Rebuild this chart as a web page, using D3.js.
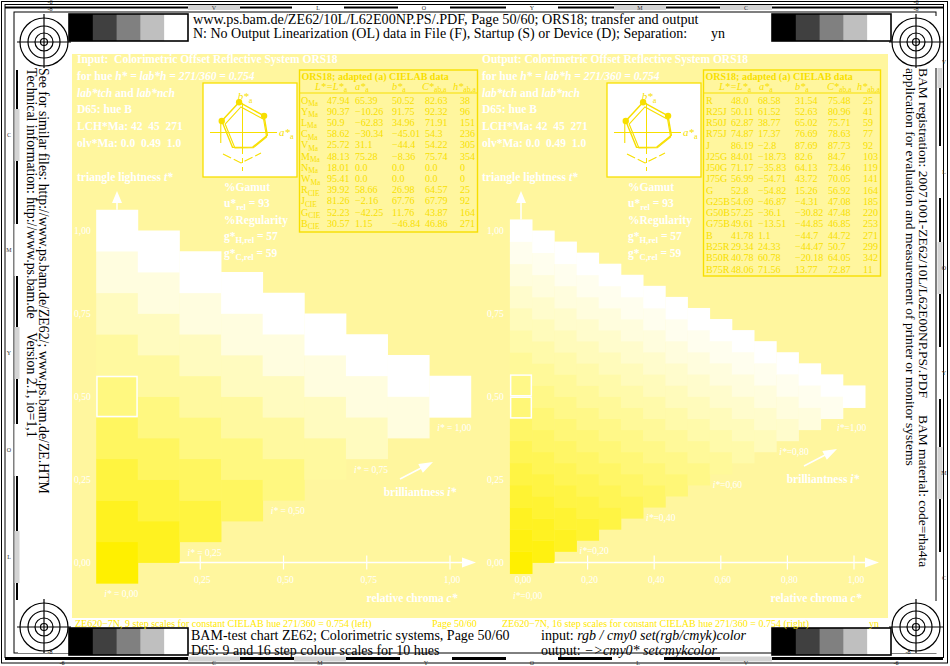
<!DOCTYPE html>
<html>
<head>
<meta charset="utf-8">
<script src="https://cdn.jsdelivr.net/npm/d3@7/dist/d3.min.js"></script>
<style>
  html, body { margin: 0; padding: 0; background: #ffffff; }
  svg { display: block; font-family: "Liberation Serif", "Times New Roman", Times, serif; }
  text { white-space: pre; }
</style>
</head>
<body>
<svg id="chart" width="950" height="666"></svg>
<script>
// ---------------------------------------------------------------
// ORS18 adapted CIELAB data (left: 12 reference colours)
// ---------------------------------------------------------------
const leftNames = ["O", "Y", "L", "C", "V", "M", "N", "W", "R", "J", "G", "B"];
const leftSubs  = ["Ma", "Ma", "Ma", "Ma", "Ma", "Ma", "Ma", "Ma", "CIE", "CIE", "CIE", "CIE"];
const leftL = ["47.94", "90.37", "50.9", "58.62", "25.72", "48.13", "18.01", "95.41", "39.92", "81.26", "52.23", "30.57"];
const leftA = ["65.39", "−10.26", "−62.83", "−30.34", "31.1", "75.28", "0.0", "0.0", "58.66", "−2.16", "−42.25", "1.15"];
const leftB = ["50.52", "91.75", "34.96", "−45.01", "−44.4", "−8.36", "0.0", "0.0", "26.98", "67.76", "11.76", "−46.84"];
const leftC = ["82.63", "92.32", "71.91", "54.3", "54.22", "75.74", "0.0", "0.0", "64.57", "67.79", "43.87", "46.86"];
const leftH = ["38", "96", "151", "236", "305", "354", "0", "0", "25", "92", "164", "271"];

// ORS18 adapted CIELAB data (right: 16 hue steps)
const rightNames = ["R", "R25J", "R50J", "R75J", "J", "J25G", "J50G", "J75G", "G", "G25B", "G50B", "G75B", "B", "B25R", "B50R", "B75R"];
const rightL = ["48.0", "50.11", "62.87", "74.87", "86.19", "84.01", "71.17", "56.99", "52.8", "54.69", "57.25", "49.61", "41.78", "29.34", "40.78", "48.06"];
const rightA = ["68.58", "61.52", "38.77", "17.37", "−2.8", "−18.73", "−35.83", "−54.71", "−54.82", "−46.87", "−36.1", "−13.51", "1.1", "24.33", "60.78", "71.56"];
const rightB = ["31.54", "52.63", "65.02", "76.69", "87.69", "82.6", "64.13", "43.72", "15.26", "−4.31", "−30.82", "−44.85", "−44.7", "−44.47", "−20.18", "13.77"];
const rightC = ["75.48", "80.96", "75.71", "78.63", "87.73", "84.7", "73.46", "70.05", "56.92", "47.08", "47.48", "46.85", "44.72", "50.7", "64.05", "72.87"];
const rightH = ["25", "41", "59", "77", "92", "103", "119", "141", "164", "185", "220", "253", "271", "299", "342", "11"];

// Yellow separation amount per colour step (index = chroma step + lightness step)
const leftLevels  = [1.0, 0.875, 0.75, 0.625, 0.5, 0.375, 0.25, 0.125, 0.0];
const rightLevels = [1.0, 0.933, 0.867, 0.8, 0.733, 0.667, 0.6, 0.533, 0.467, 0.4, 0.333, 0.267, 0.2, 0.133, 0.067, 0.0];

// Axis tick values and labels
const tTicks = [1.0, 0.75, 0.5, 0.25, 0.0];
const tLabels = ["1,00", "0,75", "0,50", "0,25", "0,00"];
const leftCTicks = [0.25, 0.5, 0.75, 1.0];
const leftCLabels = ["0,25", "0,50", "0,75", "1,00"];
const rightCTicks = [0.0, 0.2, 0.4, 0.6, 0.8, 1.0];
const rightCLabels = ["0,00", "0,20", "0,40", "0,60", "0,80", "1,00"];
const leftILabels = ["i* = 0,00", "i* = 0,25", "i* = 0,50", "i* = 0,75", "i* = 1,00"];
const leftIValues = [0.0, 0.25, 0.5, 0.75, 1.0];
const rightILabels = ["i*=0,00", "i*=0,20", "i*=0,40", "i*=0,60", "i*=0,80", "i*=1,00"];
const rightIValues = [0.0, 0.2, 0.4, 0.6, 0.8, 1.0];

// Grey scale patches in the corner strips
const greySteps = [0, 0.25, 0.5, 0.75, 1.0];

// ---------------------------------------------------------------
const svg = d3.select("#chart");
const PANEL = "#fff69e";
const INK = "#f7df00";
const CAPTION = "#ffe900";

// yellow-separation colour for amount v (0 = paper white, 1 = full yellow)
function sepColor(v) {
  const b = 255 * (1 - v);
  const g = 255 - 15 * v;
  return d3.rgb(255, g, b).formatHex();
}

// text with italic / subscript runs
function rich(sel, x, y, parts, o = {}) {
  const size = o.size || 11;
  const t = sel.append("text")
    .attr("x", x).attr("y", y)
    .attr("font-size", size)
    .attr("fill", o.fill || "#ffffff")
    .attr("font-weight", o.bold ? "bold" : "normal")
    .attr("font-style", o.italic ? "italic" : "normal")
    .attr("text-anchor", o.anchor || "start");
  if (o.transform) t.attr("transform", o.transform);
  let shift = 0;
  parts.forEach(p => {
    if (typeof p === "string") p = { t: p };
    const ts = t.append("tspan").text(p.t);
    if (p.i) ts.attr("font-style", "italic");
    const want = p.sub ? Math.round(size * 0.25 * 2) / 2 : 0;
    if (want !== shift) { ts.attr("dy", want - shift); shift = want; }
    if (p.sub) ts.attr("font-size", size * 0.74);
  });
  return t;
}

// ---------------------------------------------------------------
// Frame, registration marks, grey strips
// ---------------------------------------------------------------
const frame = svg.append("g").attr("fill", "none").attr("stroke", "#000");
frame.append("rect").attr("x", 1.5).attr("y", 1.5).attr("width", 946).attr("height", 661.5).attr("stroke-width", 1);
frame.append("rect").attr("x", 5).attr("y", 4.5).attr("width", 938.5).attr("height", 653).attr("stroke-width", 1);
frame.append("rect").attr("x", 14).attr("y", 12).attr("width", 922).attr("height", 641).attr("stroke-width", 1);

// separation bars along the edges
const topMarks = [["V", 214, true], ["L", 318, false], ["O", 424, false], ["Y", 532, false], ["M", 640, true], ["C", 746, true]];
const botMarks = [["C", 214, true], ["M", 320, true], ["Y", 426, false], ["O", 532, false], ["L", 638, false], ["V", 746, true]];
const sideLeft = [["C", 135, true], ["M", 250, false], ["Y", 353, true], ["O", 450, false], ["L", 557, true]];
const sideRight = [["V", 62, true], ["L", 172, false], ["O", 268, true], ["Y", 373, false], ["M", 473, true], ["C", 578, false]];

const bars = svg.append("g");
bars.append("line").attr("x1", 5).attr("x2", 943).attr("y1", 7.5).attr("y2", 7.5).attr("stroke", "#000").attr("stroke-width", 2);
bars.append("line").attr("x1", 5).attr("x2", 943).attr("y1", 659).attr("y2", 659).attr("stroke", "#000").attr("stroke-width", 2);
bars.append("line").attr("x1", 17).attr("x2", 17).attr("y1", 70).attr("y2", 600).attr("stroke", "#000").attr("stroke-width", 2);
bars.append("line").attr("x1", 940).attr("x2", 940).attr("y1", 70).attr("y2", 600).attr("stroke", "#000").attr("stroke-width", 2);
function hMarks(list, y, ly) {
  list.forEach(([ch, x, grey]) => {
    bars.append("rect").attr("x", x - 26).attr("y", y - 2.5).attr("width", 52).attr("height", 5)
      .attr("fill", grey ? "#d4d4d4" : "#ffffff");
    bars.append("text").attr("x", x).attr("y", ly).attr("font-size", 6).attr("text-anchor", "middle").attr("fill", "#333").text(ch);
  });
}
function vMarks(list, x, lx) {
  list.forEach(([ch, y, grey]) => {
    bars.append("rect").attr("x", x - 2.5).attr("y", y - 26).attr("width", 5).attr("height", 52)
      .attr("fill", grey ? "#d4d4d4" : "#ffffff");
    bars.append("text").attr("x", lx).attr("y", y + 2).attr("font-size", 6).attr("text-anchor", "middle").attr("fill", "#333").text(ch);
  });
}
hMarks(topMarks, 7.5, 10);
hMarks(botMarks, 659, 665);
vMarks(sideLeft, 17, 9);
vMarks(sideRight, 940, 944);

function target(cx, cy) {
  const g = svg.append("g").attr("fill", "none").attr("stroke", "#000").attr("stroke-width", 1.2);
  g.append("rect").attr("x", cx - 26).attr("y", cy - 26).attr("width", 52).attr("height", 52).attr("fill", "#fff").attr("stroke", "none");
  [24, 16, 9, 3.5].forEach(r => g.append("circle").attr("cx", cx).attr("cy", cy).attr("r", r));
  g.append("line").attr("x1", cx - 27).attr("x2", cx + 27).attr("y1", cy).attr("y2", cy);
  g.append("line").attr("x1", cx).attr("x2", cx).attr("y1", cy - 28).attr("y2", cy + 26);
}
target(44, 42); target(916, 42); target(44, 627); target(916, 627);

const tiny = [["-6", 50, 4], ["-8", 50, 11], ["-6", 916, 4], ["-8", 916, 11], ["-8", 50, 654], ["-6", 62, 665], ["-8", 908, 654], ["-6", 896, 665]];
tiny.forEach(([s, x, y]) => svg.append("text").attr("x", x).attr("y", y).attr("font-size", 6).attr("text-anchor", "middle").text(s));

function greyStrip(x, y) {
  const w = 119, h = 27;
  const sx = d3.scaleBand().domain(d3.range(greySteps.length)).range([x, x + w]);
  svg.append("g").selectAll("rect").data(greySteps).join("rect")
    .attr("x", (d, i) => sx(i)).attr("y", y).attr("width", sx.bandwidth() + 0.5).attr("height", h)
    .attr("fill", d => d3.rgb(255 * d, 255 * d, 255 * d).formatHex());
  svg.append("rect").attr("x", x).attr("y", y).attr("width", w).attr("height", h)
    .attr("fill", "none").attr("stroke", "#000").attr("stroke-width", 1.6);
}
greyStrip(69, 14); greyStrip(772, 14); greyStrip(69, 628); greyStrip(772, 628);

// header / footer lines
const hdr = svg.append("g");
rich(hdr, 193, 24, ["www.ps.bam.de/ZE62/10L/L62E00NP.PS/.PDF, Page 50/60; ORS18; transfer and output"], { size: 14.2, fill: "#000" });
rich(hdr, 193, 38, ["N: No Output Linearization (OL) data in File (F), Startup (S) or Device (D); Separation:"], { size: 14, fill: "#000" });
rich(hdr, 711, 38, ["yn"], { size: 14, fill: "#000" });
rich(hdr, 191, 640, ["BAM-test chart ZE62; Colorimetric systems, Page 50/60"], { size: 14, fill: "#000" });
rich(hdr, 191, 654.5, ["D65: 9 and 16 step colour scales for 10 hues"], { size: 14, fill: "#000" });
rich(hdr, 541, 640, ["input: ", { t: "rgb / cmy0 set(rgb/cmyk)color", i: true }], { size: 14, fill: "#000" });
rich(hdr, 541, 654.5, ["output: ", { t: "−>cmy0* setcmykcolor", i: true }], { size: 14, fill: "#000" });

rich(hdr, 0, 0, ["See for similar files: http://www.ps.bam.de/ZE62/; www.ps.bam.de/ZE.HTM"], { size: 13.8, fill: "#000", transform: "translate(39,68) rotate(90)" });
rich(hdr, 0, 0, ["Technical information: http://www.ps.bam.de    Version 2.1, io=1,1"], { size: 13.8, fill: "#000", transform: "translate(27,68) rotate(90)" });
rich(hdr, 0, 0, ["BAM registration: 20071001-ZE62/10L/L62E00NP.PS/.PDF     BAM material: code=rha4ta"], { size: 13.5, fill: "#000", transform: "translate(919,68) rotate(90)" });
rich(hdr, 0, 0, ["application for evaluation and measurement of printer or monitor systems"], { size: 13.5, fill: "#000", transform: "translate(906,68) rotate(90)" });

// ---------------------------------------------------------------
// Yellow panel with captions
// ---------------------------------------------------------------
svg.append("rect").attr("x", 72).attr("y", 54).attr("width", 816).attr("height", 564).attr("fill", PANEL);
rich(svg, 75, 627, ["ZE620−7N, 9 step scales for constant CIELAB hue 271/360 = 0.754 (left)"], { size: 10, fill: CAPTION });
rich(svg, 432, 627, ["Page 50/60"], { size: 10, fill: CAPTION });
rich(svg, 502, 627, ["ZE620−7N, 16 step scales for constant CIELAB hue 271/360 = 0.754 (right)"], { size: 10, fill: CAPTION });
rich(svg, 869, 627, ["yn"], { size: 10, fill: CAPTION });

// ---------------------------------------------------------------
// Panel text blocks
// ---------------------------------------------------------------
function infoBlock(x, title) {
  const g = svg.append("g");
  const lines = [
    [title],
    ["for hue ", { t: "h* = lab*h = 271/360 = 0.754", i: true }],
    [{ t: "lab*tch", i: true }, " and ", { t: "lab*nch", i: true }],
    ["D65: hue B"],
    ["LCH*Ma: 42  45  271"],
    ["olv*Ma: 0.0  0.49  1.0"],
    [],
    ["triangle lightness ", { t: "t*", i: true }]
  ];
  lines.forEach((parts, i) => {
    if (parts.length) rich(g, x, 63 + i * 16.8, parts, { size: 11.5, bold: true });
  });
}
infoBlock(77, "Input:  Colorimetric Offset Reflective System ORS18");
infoBlock(482, "Output: Colorimetric Offset Reflective System ORS18");

function gamutBlock(x) {
  const g = svg.append("g");
  const lines = [
    ["%Gamut"],
    ["u*", { t: "rel", sub: true }, " = 93"],
    ["%Regularity"],
    ["g*", { t: "H,rel", sub: true }, " = 57"],
    ["g*", { t: "C,rel", sub: true }, " = 59"]
  ];
  lines.forEach((parts, i) => rich(g, x, 190.5 + i * 16.6, parts, { size: 11.5, bold: true }));
}

// hue diagram in the a*b* plane, drawn from the ORS18 table values
function hueDiagram(bx, by) {
  const g = svg.append("g").attr("transform", `translate(${bx},${by})`);
  g.append("rect").attr("x", 0).attr("y", 0).attr("width", 94).attr("height", 94)
    .attr("fill", "#fff").attr("stroke", INK).attr("stroke-width", 1.3);
  const cx = 39.5, cy = 49.5;
  const num = s => parseFloat(s.replace("−", "-"));
  const s = d3.scaleLinear().domain([0, 100]).range([0, 33]);
  const pts = [0, 1, 2, 3, 4, 5].map(i => [cx + s(num(leftA[i])), cy - s(num(leftB[i]))]);
  const s2 = d3.scaleLinear().domain([0, 100]).range([0, 30]);
  const pts2 = [0, 1, 2, 3, 4, 5].map(i => [cx + 1.5 + s2(num(leftA[i])), cy + 2 - s2(num(leftB[i]))]);
  const ln = d3.line();
  g.append("line").attr("x1", 7).attr("x2", 74).attr("y1", cy).attr("y2", cy).attr("stroke", INK).attr("stroke-width", 1);
  g.append("line").attr("x1", cx).attr("x2", cx).attr("y1", 20).attr("y2", 66).attr("stroke", INK).attr("stroke-width", 1);
  g.append("line").attr("x1", cx).attr("x2", cx).attr("y1", 66).attr("y2", 88).attr("stroke", INK).attr("stroke-width", 1).attr("stroke-dasharray", "5,4");
  g.append("path").attr("d", ln(pts) + "Z").attr("fill", "none").attr("stroke", INK).attr("stroke-width", 1.4);
  g.append("path").attr("d", ln(pts2) + "Z").attr("fill", "none").attr("stroke", INK).attr("stroke-width", 1.1);
  g.append("line").attr("x1", pts[2][0] - 1).attr("x2", pts[2][0] - 1).attr("y1", pts[2][1]).attr("y2", 60).attr("stroke", INK).attr("stroke-width", 1.1);
  g.append("path").attr("d", ln([[20, 71], [38, 80], [58, 70]])).attr("fill", "none").attr("stroke", INK).attr("stroke-width", 1.1).attr("stroke-dasharray", "9,3");
  [0, 1, 2].forEach(i => g.append("circle").attr("cx", pts[i][0]).attr("cy", pts[i][1]).attr("r", 3.2).attr("fill", INK));
  rich(g, 42, 17, [{ t: "b*", i: true }, { t: "a", sub: true }], { size: 11, fill: INK, anchor: "middle" });
  rich(g, 76, 53, [{ t: "a*", i: true }, { t: "a", sub: true }], { size: 11, fill: INK });
}
hueDiagram(203, 83);
hueDiagram(607, 83);

// ---------------------------------------------------------------
// CIELAB tables
// ---------------------------------------------------------------
function labTable(x0, y0, w, h, rows, cols, hdrX, step) {
  const g = svg.append("g");
  const fs = 10;
  g.append("rect").attr("x", x0).attr("y", y0).attr("width", w).attr("height", h)
    .attr("fill", "none").attr("stroke", INK).attr("stroke-width", 1.4);
  rich(g, x0 + 2, y0 + 9.5, ["ORS18; adapted (a) CIELAB data"], { size: 10, bold: true, fill: INK });
  const heads = [
    [{ t: "L*=L*", i: true }, { t: "a", sub: true }],
    [{ t: "a*", i: true }, { t: "a", sub: true }],
    [{ t: "b*", i: true }, { t: "a", sub: true }],
    [{ t: "C*", i: true }, { t: "ab,a", sub: true }],
    [{ t: "h*", i: true }, { t: "ab,a", sub: true }]
  ];
  heads.forEach((p, i) => rich(g, hdrX[i], y0 + 19.5, p, { size: 10.3, fill: INK }));
  g.append("line").attr("x1", x0).attr("x2", x0 + w).attr("y1", y0 + 23).attr("y2", y0 + 23).attr("stroke", INK).attr("stroke-width", 1);
  const ry = d3.scaleLinear().domain([0, 1]).range([y0 + 33.5, y0 + 33.5 + step]);
  rows.forEach((r, i) => {
    const y = ry(i);
    rich(g, cols[0], y, r.label, { size: fs, fill: INK });
    r.vals.forEach((v, k) => rich(g, cols[k + 1], y, [v], { size: fs, fill: INK }));
  });
}
const leftRows = leftNames.map((n, i) => ({ label: [n, { t: leftSubs[i], sub: true }], vals: [leftL[i], leftA[i], leftB[i], leftC[i], leftH[i]] }));
const rightRows = rightNames.map((n, i) => ({ label: [n], vals: [rightL[i], rightA[i], rightB[i], rightC[i], rightH[i]] }));
labTable(299.5, 70, 178, 162, leftRows, [301, 327, 355, 392, 425, 460], [315, 355, 392, 422, 453], 11.22);
labTable(703.5, 70, 177, 206, rightRows, [706, 731, 758, 795, 828, 863], [719, 759, 795, 827, 857], 11.27);

// ---------------------------------------------------------------
// Colour triangles
// ---------------------------------------------------------------
function triangle(levels, x0, cTicks, cLabels, iVals, iLabels, outlined, opts) {
  const n = levels.length - 1;
  const x = d3.scaleLinear().domain([0, 1]).range([x0, x0 + 333]);
  const y = d3.scaleLinear().domain([0, 1]).range([562.5, 230.5]);
  const cw = x(1 / n) - x(0), ch = y(0) - y(1 / n);
  const cells = [];
  for (let j = 0; j <= n; j++) {
    for (let k = 0; k <= n - j; k++) {
      cells.push({ j, k, c: j / n, t: k / n + j / (2 * n), v: levels[j + k] });
    }
  }
  const g = svg.append("g");
  g.selectAll("rect.cell").data(cells).join("rect").attr("class", "cell")
    .attr("x", d => x(d.c) - cw / 2).attr("y", d => y(d.t) - ch / 2)
    .attr("width", cw + 0.4).attr("height", ch + 0.4)
    .attr("fill", d => sepColor(d.v));
  outlined.forEach(k => {
    g.append("rect").attr("x", x(0) - cw / 2 + 0.75).attr("y", y(k / n) - ch / 2 + 0.75)
      .attr("width", cw - 1.5).attr("height", ch - 1.5)
      .attr("fill", "none").attr("stroke", "#fff").attr("stroke-width", 1.5);
  });

  // lightness axis arrow
  const top = y(1 + 1 / (2 * n));
  g.append("line").attr("x1", x(0)).attr("x2", x(0)).attr("y1", top).attr("y2", 201).attr("stroke", "#fff").attr("stroke-width", 1.5);
  g.append("path").attr("d", `M${x(0) - 5},203L${x(0)},191L${x(0) + 5},203Z`).attr("fill", "#fff");

  // lightness labels
  tTicks.forEach((t, i) => rich(g, opts.yLabX, y(t) + 3.5, [tLabels[i]], { size: 9.5 }));

  // chroma axis
  const ax0 = x(opts.axisStart) - cw / 2;
  const axEnd = x0 + opts.axisLen;
  g.append("line").attr("x1", ax0).attr("x2", axEnd - 12).attr("y1", y(0)).attr("y2", y(0)).attr("stroke", "#fff").attr("stroke-width", 1.3);
  g.append("path").attr("d", `M${axEnd - 14},${y(0) - 5}L${axEnd},${y(0)}L${axEnd - 14},${y(0) + 5}Z`).attr("fill", "#fff");
  cTicks.forEach((c, i) => {
    if (c > 0) g.append("line").attr("x1", x(c)).attr("x2", x(c)).attr("y1", y(0) - 7).attr("y2", y(0) + 7).attr("stroke", "#fff").attr("stroke-width", 1.2);
    rich(g, x(c) + 2, 582.5, [cLabels[i]], { size: 9.5, anchor: "middle" });
  });

  // brilliance labels along the lower edge
  iVals.forEach((v, i) => {
    const j = Math.round(v * n);
    let lx = x(j / n) - cw / 2 + opts.iDx;
    let ly = y(j / (2 * n)) + ch / 2 + 14;
    if (j === 0) ly = opts.i0y;
    if (j === n) { lx += opts.lastDx; ly += opts.lastDy; }
    const parts = iLabels[i].split("*");
    rich(g, lx, ly, [{ t: parts[0] + "*", i: true }, parts[1]], { size: 9.5 });
  });

  // brilliance arrow and captions
  const a = opts.arrow;
  g.append("line").attr("x1", a[0]).attr("y1", a[1]).attr("x2", a[2] - 8).attr("y2", a[3] + 4).attr("stroke", "#fff").attr("stroke-width", 1.5);
  const ang = Math.atan2(a[3] - a[1], a[2] - a[0]);
  const bx = a[2] - 14 * Math.cos(ang), by = a[3] - 14 * Math.sin(ang);
  const px = -Math.sin(ang) * 5, py = Math.cos(ang) * 5;
  g.append("path").attr("d", `M${a[2]},${a[3]}L${bx + px},${by + py}L${bx - px},${by - py}Z`).attr("fill", "#fff");
  rich(g, opts.brilX, opts.brilY, ["brilliantness ", { t: "i*", i: true }], { size: 11.5, bold: true, anchor: "middle" });
  rich(g, opts.chromaX, 602, ["relative chroma ", { t: "c*", i: true }], { size: 11.5, bold: true, anchor: "middle" });
}

triangle(leftLevels, 117, leftCTicks, leftCLabels, leftIValues, leftILabels, [4], {
  yLabX: 74, axisStart: 2 / 8, axisLen: 359, iDx: 8, i0y: 597, lastDx: 0, lastDy: 0,
  arrow: [400, 479, 433, 462], brilX: 420, brilY: 496, chromaX: 412
});
triangle(rightLevels, 521, rightCTicks, rightCLabels, rightIValues, rightILabels, [7, 8], {
  yLabX: 487, axisStart: 2 / 15, axisLen: 358, iDx: 3, i0y: 599, lastDx: -9, lastDy: 9,
  arrow: [804, 466, 837, 449], brilX: 823, brilY: 483, chromaX: 816
});

gamutBlock(224);
gamutBlock(628);
</script>
</body>
</html>
